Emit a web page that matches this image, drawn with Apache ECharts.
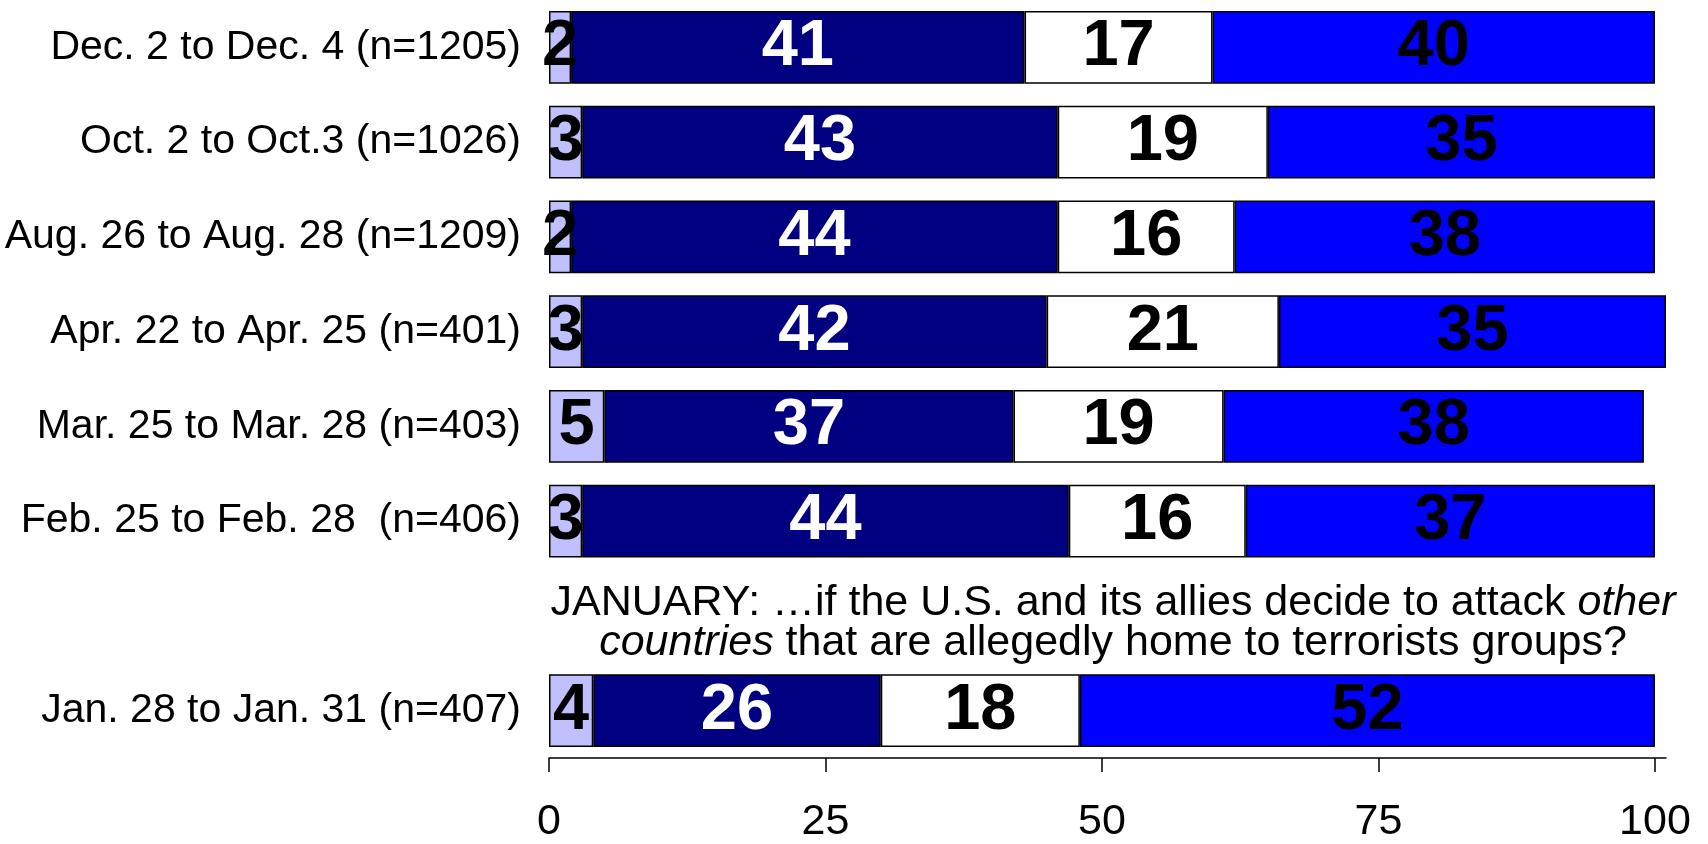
<!DOCTYPE html>
<html>
<head>
<meta charset="utf-8">
<script src="https://cdn.jsdelivr.net/npm/echarts@6/dist/echarts.min.js"></script>
<style>
html,body{margin:0;padding:0;background:#fff;}
#chart{width:1708px;height:844px;}
</style>
</head>
<body>
<div id="chart"></div>
<script>
// Data (top to bottom)
const categories = [
  'Dec. 2 to Dec. 4 (n=1205)',
  'Oct. 2 to Oct.3 (n=1026)',
  'Aug. 26 to Aug. 28 (n=1209)',
  'Apr. 22 to Apr. 25 (n=401)',
  'Mar. 25 to Mar. 28 (n=403)',
  'Feb. 25 to Feb. 28  (n=406)',
  '',
  'Jan. 28 to Jan. 31 (n=407)'
];
const seg1 = [2, 3, 2, 3, 5, 3, null, 4];
const seg2 = [41, 43, 44, 42, 37, 44, null, 26];
const seg3 = [17, 19, 16, 21, 19, 16, null, 18];
const seg4 = [40, 35, 38, 35, 38, 37, null, 52];
const tickValues = [0, 25, 50, 75, 100];
const noteLine1 = 'JANUARY: \u2026if the U.S. and its allies decide to attack ';
const noteItalic1 = 'other';
const noteItalic2 = 'countries';
const noteLine2 = ' that are allegedly home to terrorists groups?';

const FONT = '"Liberation Sans", Arial, Helvetica, sans-serif';
const chart = echarts.init(document.getElementById('chart'));

function seg(name, data, color, labelColor) {
  return {
    name: name,
    type: 'bar',
    stack: 'total',
    data: data,
    barWidth: '77%',
    itemStyle: { color: color, borderColor: '#000', borderWidth: 1.5 },
    label: {
      show: true,
      position: 'inside',
      color: labelColor,
      fontFamily: FONT,
      fontWeight: 'bold',
      fontSize: 65,
      formatter: p => (p.value == null ? '' : String(p.value))
    },
    emphasis: { disabled: true },
    silent: true
  };
}

chart.setOption({
  animation: false,
  backgroundColor: '#fff',
  grid: { left: 549, right: 42, top: -3, bottom: 82, containLabel: false },
  xAxis: {
    type: 'value',
    min: 0,
    max: 101,
    interval: 25,
    splitLine: { show: false },
    axisLine: { show: true, lineStyle: { color: '#000', width: 1.5 } },
    axisTick: { show: true, inside: false, length: 14, lineStyle: { color: '#000', width: 1.5 }, customValues: tickValues },
    axisLabel: { customValues: tickValues, color: '#000', fontFamily: FONT, fontSize: 43, margin: 43 }
  },
  yAxis: {
    type: 'category',
    inverse: true,
    data: categories,
    axisLine: { show: false },
    axisTick: { show: false },
    splitLine: { show: false },
    axisLabel: { color: '#000', fontFamily: FONT, fontSize: 41, margin: 28 }
  },
  series: [
    seg('s1', seg1, '#c0c0ff', '#000'),
    seg('s2', seg2, '#000080', '#fff'),
    seg('s3', seg3, '#ffffff', '#000'),
    seg('s4', seg4, '#0000ff', '#000')
  ]
});

const pt = chart.convertToPixel({ xAxisIndex: 0, yAxisIndex: 0 }, [51, 6]);
chart.setOption({
  graphic: [{
    type: 'text',
    x: pt[0],
    y: pt[1] + 7,
    silent: true,
    style: {
      text: '{n|' + noteLine1 + '}{i|' + noteItalic1 + '}\n{i|' + noteItalic2 + '}{n|' + noteLine2 + '}',
      align: 'center',
      verticalAlign: 'middle',
      fill: '#000',
      font: '43px ' + FONT,
      rich: {
        n: { fontFamily: FONT, fontSize: 43, lineHeight: 40, fill: '#000', color: '#000' },
        i: { fontFamily: FONT, fontSize: 43, fontStyle: 'italic', lineHeight: 40, fill: '#000', color: '#000' }
      }
    }
  }]
});
</script>
</body>
</html>
